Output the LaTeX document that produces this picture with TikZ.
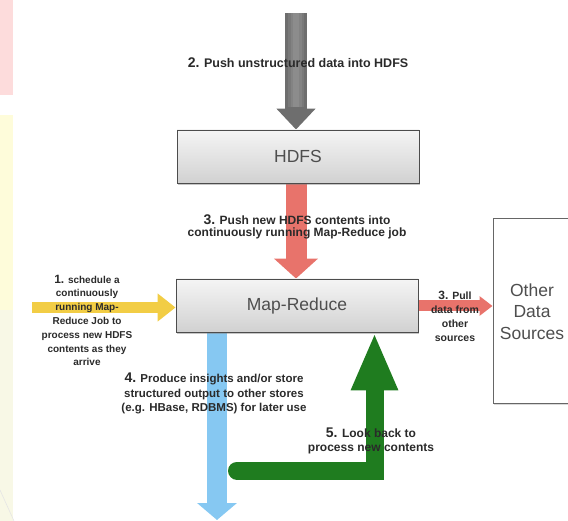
\documentclass[tikz,border=0pt]{standalone}
\usepackage{fontspec}
\setmainfont{Liberation Sans}
\usetikzlibrary{arrows.meta,shadows}

\definecolor{arrowgray}{HTML}{6E6E6E}
\definecolor{arrowred}{HTML}{E8736B}
\definecolor{arrowyellow}{HTML}{F2CD45}
\definecolor{arrowblue}{HTML}{86C8F2}
\definecolor{arrowgreen}{HTML}{1F7C1F}
\definecolor{boxtext}{HTML}{4E4E4E}
\definecolor{labeltext}{HTML}{2A2A2A}
\definecolor{edgepink}{HTML}{FDDCDC}
\definecolor{edgeyellow}{HTML}{FEFCDA}
\definecolor{edgepale}{HTML}{F8F8E6}

% step numbers are set a little larger than the step text
\newcommand\stepnum[2][14]{{\fontsize{#1}{#1}\selectfont #2}}

\pgfdeclarelayer{arrowlayer}
\pgfsetlayers{arrowlayer,main}

\begin{document}
\begin{tikzpicture}[x=1pt,y=-1pt,
  stagebox/.style={draw=black!70, line width=0.9pt, top color=black!4, bottom color=black!18,
    minimum width=242pt, minimum height=53pt, inner sep=0pt,
    font=\fontsize{17.5}{20}\selectfont, text=boxtext,
    drop shadow={shadow xshift=0.8pt, shadow yshift=-1.8pt, opacity=0.45}},
  sourcebox/.style={draw=black!60, line width=1pt, fill=white,
    minimum width=78pt, minimum height=185pt, inner sep=0pt, align=center,
    font=\fontsize{17.5}{21.5}\selectfont, text=boxtext,
    drop shadow={shadow xshift=1pt, shadow yshift=-1.5pt, opacity=0.3}},
  note/.style={align=center, text=labeltext, inner sep=0pt},
  sheen/.style={white, opacity=0.08, line cap=butt},
]
\useasboundingbox (0,0) rectangle (568,521);

% coloured strips along the left edge
\fill[edgepink] (0,0) rectangle (13,95);
\fill[edgeyellow] (0,115) rectangle (13,310);
\fill[edgepale] (0,310) rectangle (13,521);
\draw[black!10, line width=0.6pt] (0,490) -- (14,521);

% stores and jobs
\node[stagebox] (hdfs) at (298,156.5) {HDFS};
\node[stagebox] (mr) at (297,305.5) {Map-Reduce};
\node[sourcebox] (other) at (532,311.5) {Other\\Data\\Sources};

% free ends of the block arrows
\coordinate (graytop) at (296,13);
\coordinate (ytail) at (32,307.5);
\coordinate (pullrow) at (450,306);
\coordinate (outlet) at (217,520);
\coordinate (loopstart) at (237,470.5);
\coordinate (loopcorner) at (374.5,470.5);

\begin{pgfonlayer}{arrowlayer}
  % 2. ingest into HDFS, with a soft rounded sheen on the shaft
  \draw[arrowgray, line width=22pt, -{Triangle[length=21pt,width=38pt]}]
    (graytop) -- (graytop |- hdfs.north);
  \foreach \w in {16,11,6}
    \draw[sheen, line width=\w pt] (graytop) -- ++(0,94);
  % 3. HDFS feeds the running job
  \draw[arrowred, line width=21pt, -{Triangle[length=20pt,width=43pt]}]
    (graytop |- hdfs.south) -- (graytop |- mr.north);
  % 1. schedule the job
  \draw[arrowyellow, line width=11pt, -{Triangle[length=18pt,width=27pt]}]
    (ytail) -- (ytail -| mr.west);
  % 3. pull from other sources
  \draw[arrowred, line width=11pt, -{Triangle[length=13pt,width=19pt]}]
    (pullrow -| mr.east) -- (pullrow -| other.west);
  % 4. output
  \draw[arrowblue, line width=20pt, -{Triangle[length=17pt,width=39pt]}]
    (outlet |- mr.south) -- (outlet);
  % 5. loop back
  \draw[arrowgreen, line width=18pt, line join=miter, line cap=round,
        -{Triangle[length=58pt,width=43pt]}]
    (loopstart) -- (loopcorner) -- (loopcorner |- mr.south);
\end{pgfonlayer}

% step labels
\node[note, font=\bfseries\fontsize{12.5}{14}\selectfont] (lblingest) at (298,63)
  {\stepnum{2.} Push unstructured data into HDFS};
\node[note, font=\bfseries\fontsize{12}{12.7}\selectfont] (lblfeed) at (297,227)
  {\stepnum{3.} Push new HDFS contents into\\continuously running Map-Reduce job};
\node[note, font=\bfseries\fontsize{10}{13.8}\selectfont] (lblschedule) at (87,320.5)
  {\stepnum[12]{1.} schedule a\\continuously\\running Map-\\Reduce Job to\\process new HDFS\\contents as they\\arrive};
\node[note, font=\bfseries\fontsize{10.5}{14}\selectfont] (lblpull) at (455,316)
  {\stepnum[12]{3.} Pull\\data from\\other\\sources};
\node[note, font=\bfseries\fontsize{11.5}{14.5}\selectfont] (lbloutput) at (214,393.5)
  {\stepnum{4.} Produce insights and/or store\\structured output to other stores\\(e.g. HBase, RDBMS) for later use};
\node[note, font=\bfseries\fontsize{12}{14}\selectfont] (lblloop) at (371,441)
  {\stepnum{5.} Look back to\\process new contents};
\end{tikzpicture}
\end{document}
